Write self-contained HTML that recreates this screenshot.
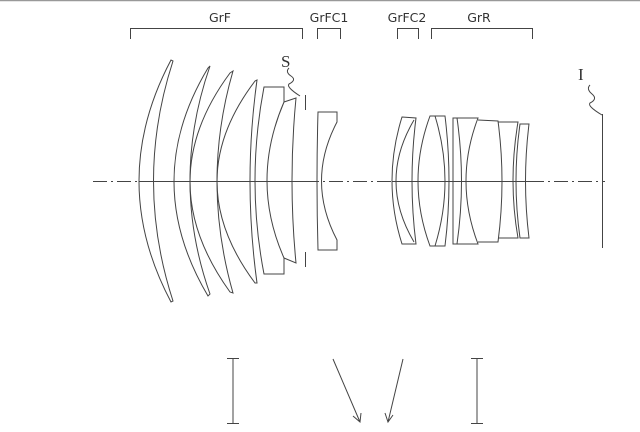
<!DOCTYPE html>
<html><head><meta charset="utf-8"><style>
html,body{margin:0;padding:0;background:#fff;}
svg{display:block;}
text{font-family:"DejaVu Sans","Liberation Sans",sans-serif;font-size:12.5px;fill:#333;}
.s{font-family:"Liberation Serif",serif;font-size:17px;fill:#333;}
</style></head><body>
<svg width="640" height="432" viewBox="0 0 640 432" xmlns="http://www.w3.org/2000/svg">
<line x1="0" y1="0.5" x2="640" y2="0.5" stroke="#999" stroke-width="1.5"/>
<g fill="none" stroke="#444" stroke-width="1">
<path d="M130.5,39 V28.5 H302.5 V39"/>
<path d="M317.5,39 V28.5 H340.5 V39"/>
<path d="M397.5,39 V28.5 H418.5 V39"/>
<path d="M431.5,39 V28.5 H532.5 V39"/>
<line x1="93" y1="181.5" x2="139" y2="181.5" stroke-dasharray="14,4,2,4"/>
<line x1="139" y1="181.5" x2="305" y2="181.5"/>
<line x1="305" y1="181.5" x2="392" y2="181.5" stroke-dasharray="14,4,2,4"/>
<line x1="392" y1="181.5" x2="530" y2="181.5"/>
<line x1="530" y1="181.5" x2="605" y2="181.5" stroke-dasharray="14,4,2,4"/>
<path d="M171,60 Q107,181 171,302 L173,301 Q134,181 173,61 Z"/>
<path d="M208,68 Q140,181 208,296 L210,294 Q170,181 210,66 Z"/>
<path d="M230,73 Q150,181 230,292 L233,293 Q201,181 233,71 Z"/>
<path d="M255,81 Q179,181 255,283 L257,283 Q243,181 257,80 Z"/>
<path d="M264,87 L284,87 L284,102 Q250,181 284,258 L284,274 L264,274 Q246,181 264,87 Z"/>
<path d="M284,102 L296,98 Q288,181 296,263 L284,258"/>
<line x1="305.5" y1="95" x2="305.5" y2="110"/>
<line x1="305.5" y1="252" x2="305.5" y2="267"/>
<path d="M289,68 q-4,4 2,8 q6,4 -2,8 q-3,3 11,12"/>
<path d="M318,112 L337,112 L337,122 Q306,181 337,240 L337,250 L318,250 Q316,181 318,112 Z"/>
<path d="M402,117 L416,118 Q408,181 416,244 L402,244 Q382,181 402,117 Z"/>
<path d="M414,120 Q378,181 414,242"/>
<path d="M430,116 L445,116 Q453,181 445,246 L430,246 Q406,181 430,116 Z"/>
<path d="M435,116 Q455,181 435,246"/>
<path d="M453,118 L478,118 Q454,181 478,244 L453,244 Z"/>
<path d="M457,118 Q466,181 457,244"/>
<path d="M478,120 L498,121 Q506,181 498,242 L478,242"/>
<path d="M498,122 L518,122 Q508,181 518,238 L498,238"/>
<path d="M520,124 L529,124 Q522,181 529,238 L520,238 Q512,181 520,124 Z"/>
<line x1="602.5" y1="114" x2="602.5" y2="248"/>
<path d="M590,85 q-4,4 2,9 q6,5 -2,9 q-3,3 12,12"/>
<path d="M227,358.5 H239 M233,358.5 V423.5 M227,423.5 H239"/>
<path d="M471,358.5 H483 M477,358.5 V423.5 M471,423.5 H483"/>
<path d="M333,359 L360,422 M353,416 L360,422 L361,413"/>
<path d="M403,359 L388,422 M385,413 L388,422 L393,415"/>
</g>
<text x="220" y="22" text-anchor="middle">GrF</text>
<text x="329" y="22" text-anchor="middle">GrFC1</text>
<text x="407" y="22" text-anchor="middle">GrFC2</text>
<text x="479" y="22" text-anchor="middle">GrR</text>
<text class="s" x="281" y="67">S</text>
<text class="s" x="578" y="80">I</text>
</svg>
</body></html>
